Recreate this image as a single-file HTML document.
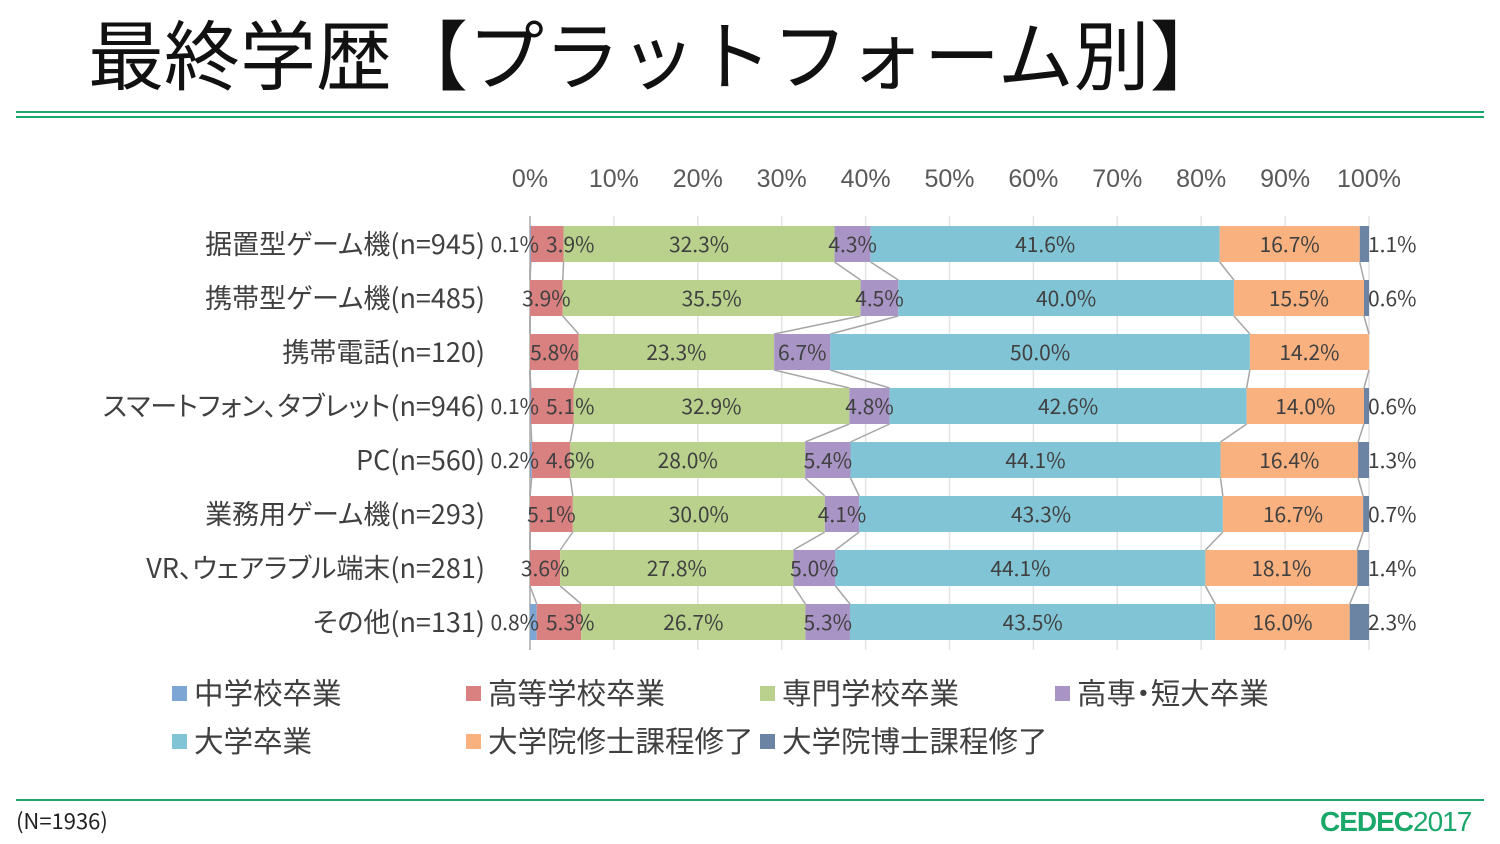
<!DOCTYPE html>
<html><head><meta charset="utf-8">
<style>
body{margin:0;background:#fff;}
#wrap{position:relative;width:1500px;height:844px;overflow:hidden;font-family:"Liberation Sans","Noto Sans CJK JP",sans-serif;}
.t{position:absolute;white-space:nowrap;}
.palt{font-feature-settings:"palt" 1;}
</style></head><body>
<div id="wrap">
<div class="t" style="left:88px;top:-4px;font-size:76px;color:#111;font-family:'Noto Sans CJK JP',sans-serif;">最終学歴【プラットフォーム別】</div>
<div style="position:absolute;left:16px;top:111px;width:1468px;height:2px;background:#1aa86a"></div>
<div style="position:absolute;left:16px;top:116px;width:1468px;height:2px;background:#1aa86a"></div>
<div style="position:absolute;left:16px;top:799px;width:1468px;height:2px;background:#1aa86a"></div>
<div class="t" style="left:16px;top:804px;font-size:22px;color:#222;font-family:'Noto Sans CJK JP',sans-serif;">(N=1936)</div>
<div class="t" style="left:1320px;top:806px;font-size:28px;color:#1aa86a;letter-spacing:-1px;"><b>CEDEC</b><span style="font-weight:300">2017</span></div>
<svg id="chart" width="1500" height="844" style="position:absolute;left:0;top:0"></svg>
</div>
<script>
const categories=["据置型ゲーム機(n=945)","携帯型ゲーム機(n=485)","携帯電話(n=120)","スマートフォン、タブレット(n=946)","PC(n=560)","業務用ゲーム機(n=293)","VR、ウェアラブル端末(n=281)","その他(n=131)"];
const seriesNames=["中学校卒業","高等学校卒業","専門学校卒業","高専・短大卒業","大学卒業","大学院修士課程修了","大学院博士課程修了"];
const s0=[0.1,0,0,0.1,0.2,0,0,0.8];
const s1=[3.9,3.9,5.8,5.1,4.6,5.1,3.6,5.3];
const s2=[32.3,35.5,23.3,32.9,28.0,30.0,27.8,26.7];
const s3=[4.3,4.5,6.7,4.8,5.4,4.1,5.0,5.3];
const s4=[41.6,40.0,50.0,42.6,44.1,43.3,44.1,43.5];
const s5=[16.7,15.5,14.2,14.0,16.4,16.7,18.1,16.0];
const s6=[1.1,0.6,0,0.6,1.3,0.7,1.4,2.3];
const ticks=[0,10,20,30,40,50,60,70,80,90,100];
const colors=["#7ea6d4","#d98080","#b9d18c","#a895c6","#80c4d6","#f8b17f","#6c84a4"];
const series=[s0,s1,s2,s3,s4,s5,s6];
const svg=document.getElementById('chart');
const NS='http://www.w3.org/2000/svg';
const X0=530,X1=1369,Y0=244,RS=54,BH=36;
const x=v=>X0+(X1-X0)*v/100;
const yc=i=>Y0+i*RS;
function mk(tag,at){const e=document.createElementNS(NS,tag);for(const k in at)e.setAttribute(k,at[k]);svg.appendChild(e);return e;}
const font='"Liberation Sans","Noto Sans CJK JP",sans-serif';
const jfont='"Noto Sans CJK JP",sans-serif';
ticks.forEach(t=>{
 const g=mk('line',{x1:x(t),x2:x(t),y1:216,y2:650,stroke:t==0?'#bfbfbf':'#e3e3e3','stroke-width':t==0?2:1.5});
 
 
 const l=mk('text',{x:x(t),y:187,'text-anchor':'middle','font-size':25,fill:'#595959','font-family':font});
 l.textContent=t+'%';
 
 
});
const cum=categories.map((c,i)=>{const tot=series.reduce((a,s)=>a+s[i],0);let acc=0;const arr=[0];series.forEach(s=>{acc+=s[i]/tot*100;arr.push(acc);});return arr;});
for(let i=0;i<categories.length-1;i++){
 for(let k=1;k<series.length;k++){
  const ln=mk('line',{x1:x(cum[i][k]),y1:yc(i)+BH/2,x2:x(cum[i+1][k]),y2:yc(i+1)-BH/2,stroke:'#a6a6a6','stroke-width':1.5});
  
  
 }
}
categories.forEach((c,i)=>{
 const cl=mk('text',{x:485,y:yc(i)+10,'text-anchor':'end','font-size':27,fill:'#404040','font-family':jfont,'class':'palt'});
 cl.textContent=c;
 
 
 series.forEach((s,k)=>{
  if(s[i]<=0)return;
  const a=x(cum[i][k]),b=x(cum[i][k+1]);
  const r=mk('rect',{x:a,y:yc(i)-BH/2,width:Math.max(b-a,0.5),height:BH,fill:colors[k]});
  
  
 });
});
categories.forEach((c,i)=>{
 series.forEach((s,k)=>{
  if(s[i]<=0)return;
  const a=x(cum[i][k]),b=x(cum[i][k+1]);
  let tx=(a+b)/2,anc='middle';
  if(k==0){tx=539;anc='end';}
  if(k==1&&s0[i]>0){tx=546;anc='start';}
  if(k==6){tx=1368;anc='start';}
  const t=mk('text',{x:tx,y:yc(i)+8,'text-anchor':anc,'font-size':21,fill:'#404040','font-family':jfont});
  t.textContent=s[i].toFixed(1)+'%';
  
  
 });
});
const lx=[172,466,760,1055],ly=[694,742];
seriesNames.forEach((n,k)=>{
 const cx=lx[k%4],cy=ly[Math.floor(k/4)];
 const sq=mk('rect',{x:cx,y:cy-8,width:15,height:15,fill:colors[k]});
 
 
 const t=mk('text',{x:cx+22,y:cy+10,'font-size':29.5,fill:'#404040','font-family':jfont,'class':'palt'});
 t.textContent=n;
 
 
});
</script>
</body></html>
